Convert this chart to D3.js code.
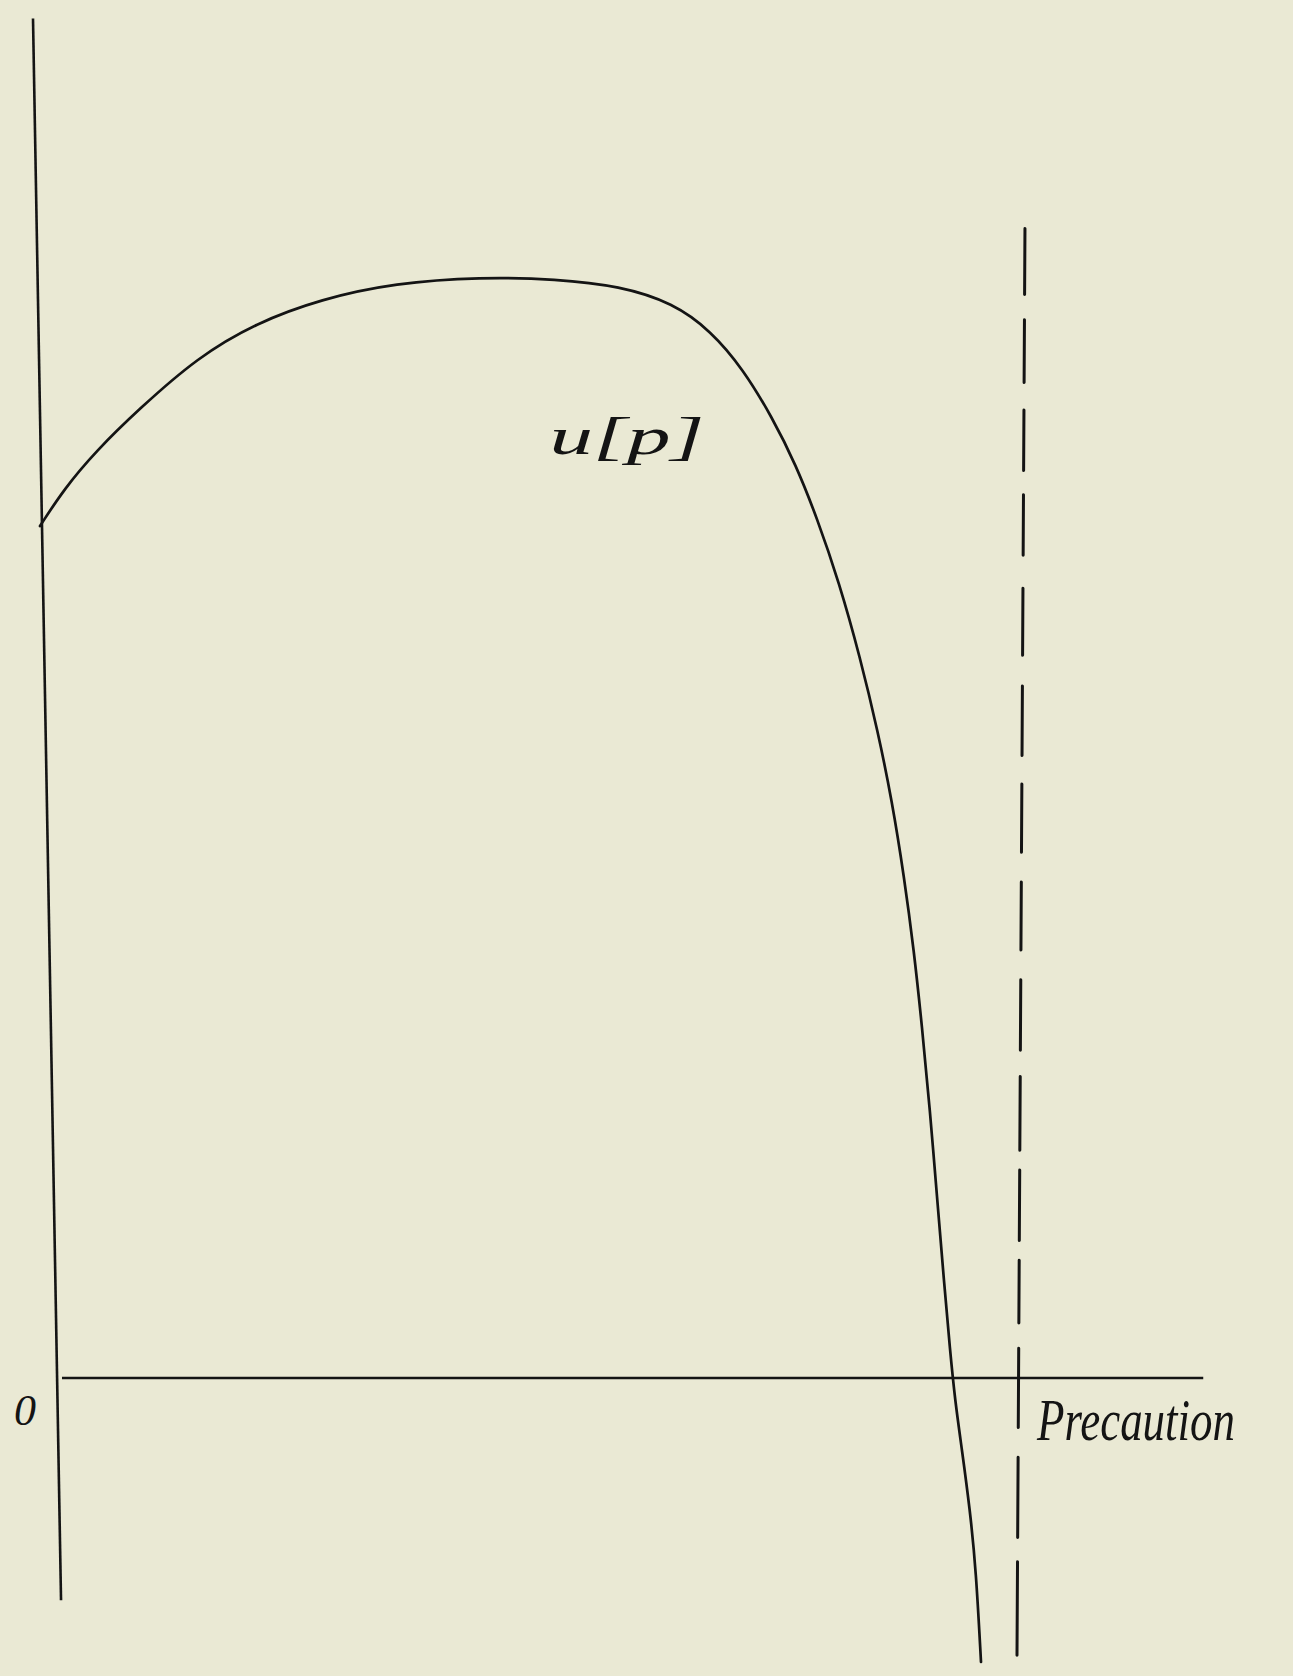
<!DOCTYPE html>
<html>
<head>
<meta charset="utf-8">
<script src="https://cdn.jsdelivr.net/npm/d3@7"></script>
<style>
  html, body { margin: 0; padding: 0; background: #eae9d4; }
  svg { display: block; }
</style>
</head>
<body>
<div id="chart"></div>
<script>
// ---- data (precaution p, utility u[p]) ----
const precaution = [-1.77, 0.73, 4.06, 8.54, 14.69, 20.73, 27.50, 35.21, 44.17, 51.98,
  58.65, 64.17, 68.13, 71.46, 74.48, 76.98, 79.17, 81.46, 83.65, 85.52,
  86.98, 88.23, 89.27, 90.10, 90.94, 91.67, 92.40, 93.02, 93.54, 94.27,
  95.10, 95.73, 96.25];
const utility = [77.45, 80.82, 84.27, 88.09, 92.82, 95.91, 98.09, 99.55, 100.09, 99.91,
  99.27, 97.73, 95.18, 91.73, 87.36, 83.0, 78.18, 72.36, 65.55, 58.73,
  52.45, 45.64, 38.82, 32.0, 24.27, 16.45, 8.73, 2.55, -2.0, -6.55,
  -12.0, -17.45, -25.82];

// axes drawn as hand lines: [p, u] endpoints
const yAxisEnds = [[-2.5, 123.6], [0.42, -20.2]];
const xAxisEnds = [[0.52, 0], [119.4, 0]];

// vertical dashed limit line: p at top and bottom, and dash pieces in u
const limitTop = [100.83, 104.5];
const limitBottom = [100.0, -25.2];
const limitDashes = [[104.5, 98.5], [96.2, 90.5], [88.0, 82.5], [80.3, 74.8], [71.8, 65.7],
  [62.9, 56.6], [54.0, 47.8], [45.1, 38.9], [36.2, 29.8], [27.4, 20.7],
  [18.9, 12.5], [10.7, 5.0], [2.7, -4.5], [-7.2, -14.5], [-16.7, -25.2]];

const originLabel = "0";
const xAxisLabel = "Precaution";
const curveLabel = "u[p]";

// ---- drawing ----
const W = 1293, H = 1676;
const x = d3.scaleLinear().domain([0, 100]).range([57, 1017]);
const y = d3.scaleLinear().domain([0, 100]).range([1378, 278]);

const svg = d3.select("#chart").append("svg")
  .attr("width", W).attr("height", H)
  .attr("viewBox", `0 0 ${W} ${H}`);

svg.append("rect").attr("width", W).attr("height", H).attr("fill", "#eae9d4");

const ink = "#141414";

const line = d3.line().x(d => x(d[0])).y(d => y(d[1]));

// axes
svg.append("path").attr("d", line(yAxisEnds))
  .attr("stroke", ink).attr("stroke-width", 2.6).attr("fill", "none");
svg.append("path").attr("d", line(xAxisEnds))
  .attr("stroke", ink).attr("stroke-width", 2.6).attr("fill", "none");

// dashed limit line
const pAt = u => limitTop[0] + (limitBottom[0] - limitTop[0]) * (limitTop[1] - u) / (limitTop[1] - limitBottom[1]);
svg.append("g").selectAll("line").data(limitDashes).join("line")
  .attr("x1", d => x(pAt(d[0]))).attr("y1", d => y(d[0]))
  .attr("x2", d => x(pAt(d[1]))).attr("y2", d => y(d[1]))
  .attr("stroke", ink).attr("stroke-width", 3).attr("stroke-linecap", "round");

// curve u[p]
const pts = precaution.map((p, i) => [p, utility[i]]);
svg.append("path")
  .attr("d", d3.line().x(d => x(d[0])).y(d => y(d[1])).curve(d3.curveBasis)(pts))
  .attr("stroke", ink).attr("stroke-width", 2.7).attr("fill", "none")
  .attr("stroke-linejoin", "round").attr("stroke-linecap", "round");

// labels
const font = "'Liberation Serif', 'DejaVu Serif', serif";
svg.append("text").text(originLabel)
  .attr("x", x(0) - 43).attr("y", y(0) + 47)
  .attr("font-family", font).attr("font-style", "italic").attr("font-size", 44)
  .attr("fill", ink);

// x-axis title, scaled horizontally to the sketch's width
const titleG = svg.append("g")
  .attr("transform", `translate(${x(0) + 980},${y(0) + 62})`);
const title = titleG.append("text").text(xAxisLabel)
  .attr("font-family", font).attr("font-style", "italic").attr("font-size", 60)
  .attr("fill", ink);
const natural = title.node().getComputedTextLength();
title.attr("transform", `scale(${198 / natural},1)`);

svg.append("text").text(curveLabel)
  .attr("x", x(51.3)).attr("y", y(84))
  .attr("font-family", font).attr("font-style", "italic").attr("font-size", 52)
  .attr("textLength", 155).attr("lengthAdjust", "spacingAndGlyphs")
  .attr("fill", ink);
</script>
</body>
</html>
